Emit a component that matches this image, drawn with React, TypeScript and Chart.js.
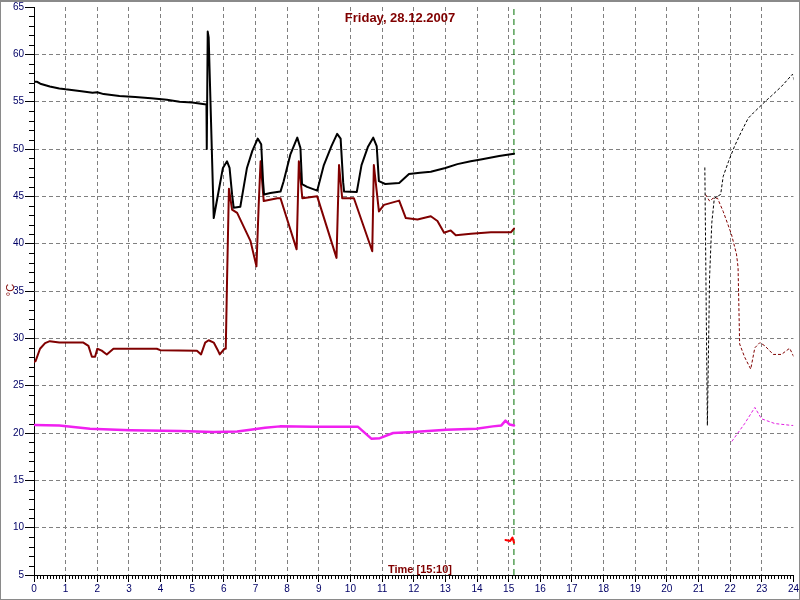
import React, { useEffect, useRef } from "react";
import { Chart, registerables } from "chart.js";

Chart.register(...registerables);

// ---- data ----
const titleText = "Friday, 28.12.2007";
const timeLabel = "Time [15:10]";
const yAxisTitle = "°C";
const currentHour = 15.1667;

const blackHours = [0, 0.1, 0.2, 0.5, 0.8, 1.0, 1.5, 1.85, 2.0, 2.2, 2.7, 3.2, 3.7, 4.2, 4.6, 5.0, 5.45, 5.46, 5.49, 5.52, 5.68, 5.75, 5.87, 5.97, 6.1, 6.18, 6.26, 6.31, 6.52, 6.73, 6.9, 7.07, 7.18, 7.24, 7.27, 7.47, 7.79, 7.89, 8.1, 8.32, 8.42, 8.47, 8.63, 8.95, 9.16, 9.4, 9.58, 9.69, 9.77, 9.8, 10.2, 10.35, 10.55, 10.72, 10.83, 10.9, 11.1, 11.54, 11.85, 12.2, 12.54, 13.0, 13.38, 13.8, 14.12, 14.7, 15.17];
const blackTemps = [57.1, 57.1, 56.9, 56.6, 56.4, 56.3, 56.1, 55.95, 56.0, 55.8, 55.6, 55.5, 55.35, 55.2, 55.0, 54.9, 54.7, 50.0, 62.4, 61.8, 42.7, 44.0, 46.2, 48.0, 48.7, 48.0, 45.2, 43.8, 43.9, 48.0, 49.8, 51.1, 50.5, 46.5, 45.2, 45.35, 45.5, 46.6, 49.4, 51.2, 50.1, 46.3, 46.0, 45.6, 48.3, 50.3, 51.6, 51.1, 46.5, 45.5, 45.45, 48.3, 50.2, 51.2, 50.3, 46.6, 46.3, 46.4, 47.35, 47.5, 47.6, 48.0, 48.4, 48.7, 48.9, 49.25, 49.5];

const maroonHours = [0, 0.05, 0.19, 0.35, 0.5, 0.8, 1.56, 1.72, 1.83, 1.93, 2.0, 2.14, 2.3, 2.51, 3.88, 3.99, 5.15, 5.28, 5.41, 5.52, 5.68, 5.8, 5.87, 6.02, 6.06, 6.1, 6.16, 6.26, 6.42, 6.84, 7.03, 7.1, 7.16, 7.26, 7.69, 7.79, 8.3, 8.37, 8.48, 8.95, 9.56, 9.64, 9.74, 10.11, 10.69, 10.74, 10.9, 11.06, 11.54, 11.75, 12.12, 12.54, 12.75, 12.96, 13.17, 13.33, 13.81, 14.44, 15.07, 15.17];
const maroonTemps = [27.5, 27.6, 28.9, 29.5, 29.7, 29.55, 29.55, 29.2, 28.05, 28.05, 28.9, 28.7, 28.3, 28.9, 28.9, 28.75, 28.7, 28.3, 29.55, 29.8, 29.55, 28.8, 28.3, 28.9, 28.9, 36.0, 45.8, 43.6, 43.25, 40.3, 37.6, 44.0, 48.7, 44.5, 44.8, 44.8, 39.4, 48.7, 44.8, 45.0, 38.5, 48.3, 44.8, 44.8, 39.2, 48.3, 43.4, 44.1, 44.55, 42.7, 42.55, 42.9, 42.4, 41.15, 41.4, 40.9, 41.05, 41.2, 41.2, 41.6];

const magentaHours = [0, 0.8, 1.77, 3.04, 4.62, 5.67, 6.42, 6.84, 7.3, 7.77, 8.8, 10.24, 10.66, 10.93, 11.35, 11.98, 13.03, 13.98, 14.5, 14.77, 14.9, 15.03, 15.17];
const magentaTemps = [20.85, 20.8, 20.45, 20.3, 20.2, 20.1, 20.15, 20.35, 20.55, 20.7, 20.65, 20.65, 19.4, 19.45, 20.0, 20.1, 20.35, 20.45, 20.7, 20.8, 21.3, 20.9, 20.8];

const redHours = [14.9, 15.05, 15.12, 15.17];
const redTemps = [8.7, 8.6, 8.95, 8.4];

const blackPrevHours = [21.2, 21.28, 21.35, 21.42, 21.5, 21.7, 21.78, 21.95, 22.14, 22.35, 22.57, 22.73, 23.1, 23.3, 23.62, 23.97, 24.05];
const blackPrevTemps = [48.05, 20.8, 36.5, 42.2, 44.8, 45.2, 47.1, 48.7, 50.3, 51.8, 53.25, 53.8, 55.0, 55.6, 56.6, 57.9, 56.9];

const maroonPrevHours = [21.22, 21.35, 21.46, 21.6, 21.78, 22.04, 22.2, 22.25, 22.3, 22.46, 22.65, 22.78, 22.94, 23.1, 23.36, 23.62, 23.88, 24.05];
const maroonPrevTemps = [45.2, 44.5, 44.8, 44.8, 43.4, 41.0, 38.9, 37.5, 29.4, 28.0, 26.75, 29.0, 29.55, 29.2, 28.3, 28.3, 28.95, 27.8];

const magentaPrevHours = [22.05, 22.46, 22.78, 22.99, 23.41, 23.94, 24.0];
const magentaPrevTemps = [19.1, 21.0, 22.7, 21.5, 21.0, 20.8, 20.8];

const nowLineTemps = [5, 65];

const zip = (xs: number[], ys: number[]) => xs.map((x, i) => ({ x, y: ys[i] }));

const decorPlugin = {
  id: "decor",
  afterDraw(chart: any) {
    const { ctx, chartArea, scales } = chart;
    const xs = scales.x;
    const ys = scales.y;
    ctx.save();
    // minor ticks
    ctx.strokeStyle = "#000";
    ctx.lineWidth = 1;
    ctx.beginPath();
    for (let i = 1; i < 240; i++) {
      if (i % 10 === 0) continue;
      const px = Math.round(xs.getPixelForValue(i / 10)) + 0.5;
      ctx.moveTo(px, chartArea.bottom + 1);
      ctx.lineTo(px, chartArea.bottom + 4);
    }
    for (let v = 6; v < 65; v++) {
      if (v % 5 === 0) continue;
      const py = Math.round(ys.getPixelForValue(v)) + 0.5;
      ctx.moveTo(chartArea.left - 5, py);
      ctx.lineTo(chartArea.left, py);
    }
    ctx.stroke();
    // texts
    ctx.fillStyle = "#800000";
    ctx.font = "bold 13px 'Liberation Sans', Arial, sans-serif";
    ctx.textAlign = "center";
    ctx.textBaseline = "alphabetic";
    ctx.fillText(titleText, 400, 22);
    ctx.font = "bold 11px 'Liberation Sans', Arial, sans-serif";
    ctx.fillText(timeLabel, 420, 573);
    ctx.save();
    ctx.translate(14, 290);
    ctx.rotate(-Math.PI / 2);
    ctx.font = "11px 'Liberation Sans', Arial, sans-serif";
    ctx.textBaseline = "alphabetic";
    ctx.fillText(yAxisTitle, 0, 0);
    ctx.restore();
    // frame
    ctx.strokeStyle = "#8a8a8a";
    ctx.lineWidth = 1;
    ctx.strokeRect(0.5, 0.5, 799, 599);
    ctx.beginPath();
    ctx.moveTo(0, 1.5);
    ctx.lineTo(800, 1.5);
    ctx.stroke();
    ctx.restore();
  },
};

export default function App() {
  const ref = useRef<HTMLCanvasElement>(null);
  useEffect(() => {
    if (!ref.current) return;
    const solid = (data: any, color: string, width: number) => ({
      data,
      borderColor: color,
      backgroundColor: color,
      borderWidth: width,
      pointRadius: 0,
      tension: 0,
      fill: false,
      borderJoinStyle: "round",
      borderCapStyle: "round",
    });
    const dotted = (data: any, color: string) => ({
      data,
      borderColor: color,
      backgroundColor: color,
      borderWidth: 1,
      borderDash: [3, 2],
      pointRadius: 0,
      tension: 0,
      fill: false,
    });
    const chart = new Chart(ref.current, {
      type: "line",
      data: {
        datasets: [
          solid(zip(blackHours, blackTemps), "#000000", 2),
          solid(zip(maroonHours, maroonTemps), "#800000", 2),
          solid(zip(magentaHours, magentaTemps), "#f020f0", 2.5),
          solid(zip(redHours, redTemps), "#ff0000", 2),
          dotted(zip(blackPrevHours, blackPrevTemps), "#000000"),
          dotted(zip(maroonPrevHours, maroonPrevTemps), "#800000"),
          dotted(zip(magentaPrevHours, magentaPrevTemps), "#e020e0"),
          {
            data: zip([currentHour, currentHour], nowLineTemps),
            borderColor: "#007000",
            borderWidth: 1,
            borderDash: [6, 4],
            pointRadius: 0,
            fill: false,
          },
        ] as any,
      },
      options: {
        responsive: false,
        animation: false,
        events: [],
        layout: { padding: { left: 0, top: 5, right: 6, bottom: 0 } },
        plugins: { legend: { display: false }, tooltip: { enabled: false }, title: { display: false } },
        scales: {
          x: {
            type: "linear",
            min: 0,
            max: 24,
            afterFit: (s: any) => { s.height = 25; },
            ticks: {
              stepSize: 1,
              autoSkip: false,
              maxRotation: 0,
              color: "#000066",
              padding: 1,
              font: { family: "'Liberation Sans', Arial, sans-serif", size: 10 },
            },
            grid: {
              color: (c: any) => (c.tick && (c.tick.value === 0 || c.tick.value === 24) ? "rgba(0,0,0,0)" : "#808080"),
              tickColor: "#000",
              tickLength: 7,
              lineWidth: 1,
            },
            border: { display: true, color: "#000", width: 1, dash: [4, 3] },
          },
          y: {
            type: "linear",
            min: 5,
            max: 65,
            afterFit: (s: any) => { s.width = 34; },
            ticks: {
              stepSize: 5,
              color: "#000066",
              padding: 1,
              font: { family: "'Liberation Sans', Arial, sans-serif", size: 10 },
            },
            grid: {
              color: (c: any) => (c.tick && (c.tick.value === 65 || c.tick.value === 5) ? "rgba(0,0,0,0)" : "#808080"),
              tickColor: "#000",
              tickLength: 9,
              lineWidth: 1,
            },
            border: { display: true, color: "#000", width: 1, dash: [4, 3] },
          },
        },
      } as any,
      plugins: [decorPlugin],
    });
    return () => chart.destroy();
  }, []);
  return (
    <div style={{ position: "absolute", left: 0, top: 0, width: 800, height: 600, background: "#fff" }}>
      <canvas ref={ref} width={800} height={600} style={{ display: "block" }} />
    </div>
  );
}
